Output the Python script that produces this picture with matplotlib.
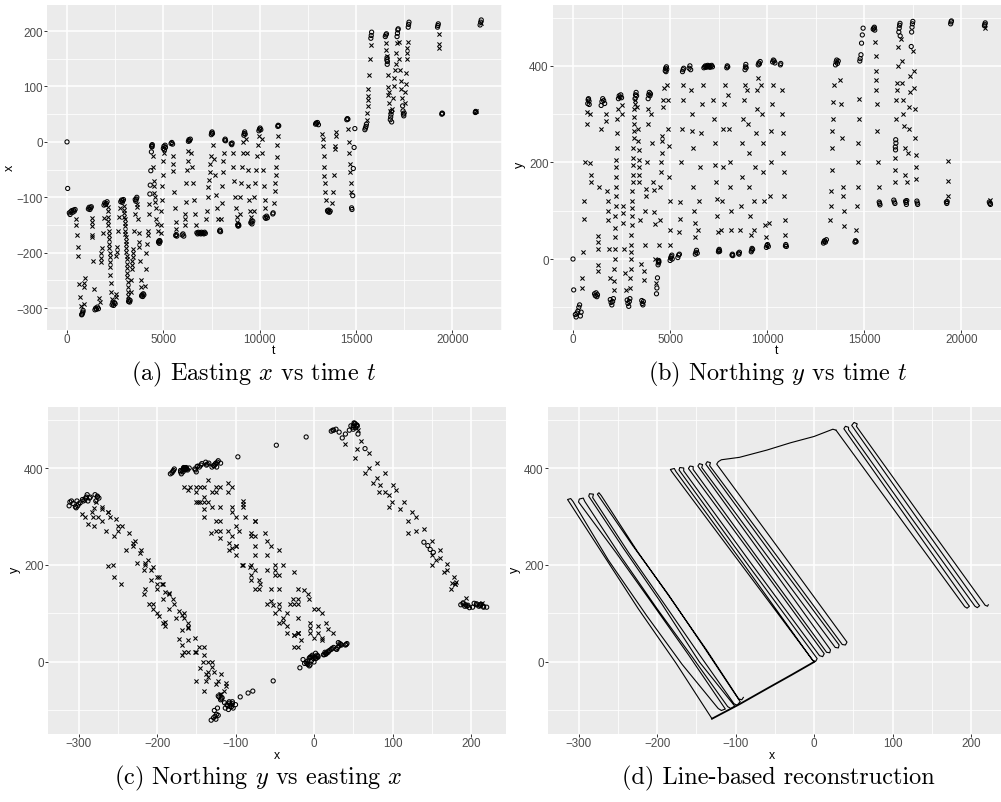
import numpy as np
import matplotlib

matplotlib.use("Agg")
import matplotlib.pyplot as plt

plt.rcParams["font.family"] = ["Liberation Sans", "DejaVu Sans"]
plt.rcParams["mathtext.fontset"] = "cm"

W, H = 1001, 803

# ---- position fixes (open circles), (t, x, y) ----
START_FIXES = [(0, 0, 0), (35, -84, -64)]
LEFT_FIXES = [
    (120, -128, -115), (160, -131, -120), (200, -126, -112), (250, -124, -108),
    (300, -127, -100), (340, -123, -95), (380, -125, -118), (420, -122, -110),
    (760, -312, 322), (780, -311, 330), (800, -309, 332), (825, -307, 327), (835, -304, 320),
    (1110, -121, -72), (1150, -118, -76), (1190, -122, -70), (1230, -119, -78), (1260, -117, -74),
    (1450, -303, 318), (1490, -300, 326), (1530, -302, 332), (1580, -298, 328), (1630, -301, 322),
    (1920, -114, -84), (1960, -110, -90), (2000, -113, -95), (2040, -111, -88), (2080, -108, -82),
    (2340, -294, 332), (2380, -291, 338), (2420, -295, 335), (2460, -290, 340), (2500, -292, 334),
    (2790, -108, -85), (2830, -105, -92), (2870, -109, -98), (2900, -106, -88), (2930, -104, -82),
    (3195, -288, 332), (3220, -285, 340), (3250, -289, 345), (3275, -286, 338),
    (3540, -104, -86), (3570, -107, -92), (3600, -103, -95), (3625, -100, -88),
    (3870, -278, 332), (3900, -276, 340), (3930, -279, 345), (3960, -274, 338), (3990, -276, 342),
    (4300, -94, -72), (4320, -78, -60), (4350, -52, -39), (4380, -18, -12),
]
MID_FIXES = [
    (4395, -8, -5), (4405, -6, -8), (4415, -9, -3), (4425, -5, -6),
    (4750, -181, 390), (4770, -179, 395), (4790, -183, 388), (4810, -178, 398), (4830, -180, 393),
    (5000, -12, -3), (5030, -8, 2), (5060, -14, 5), (5090, -6, 8), (5110, -10, 0),
    (5400, -3, 3), (5440, -1, 8), (5480, -4, 10),
    (5640, -169, 388), (5670, -167, 392), (5700, -170, 395),
    (5980, -168, 395), (6020, -166, 400), (6060, -170, 392),
    (6300, 1, 10), (6330, 4, 14), (6360, 2, 18), (6400, 5, 12),
    (6740, -164, 396), (6780, -166, 398), (6820, -163, 400), (6860, -165, 397),
    (6900, -164, 399), (6940, -166, 401), (6980, -163, 398), (7020, -165, 400),
    (7060, -164, 397), (7100, -166, 399), (7140, -163, 401), (7180, -165, 398),
    (7490, 13, 15), (7510, 16, 18), (7530, 18, 20), (7550, 15, 16),
    (7920, -161, 396), (7945, -159, 400), (7970, -162, 398),
    (8190, 3, 8), (8210, 5, 10), (8230, 2, 7),
    (8520, -3, 12), (8550, -5, 10), (8570, -2, 14),
    (8860, -150, 392), (8880, -152, 398), (8900, -149, 403), (8920, -151, 396),
    (9180, 12, 15), (9200, 15, 18), (9220, 18, 22), (9250, 14, 20),
    (9540, -146, 402), (9570, -144, 406), (9600, -148, 404), (9640, -143, 409),
    (9960, 20, 24), (9990, 23, 28), (10020, 25, 30), (10060, 22, 26),
    (10280, -136, 408), (10320, -138, 412), (10360, -134, 410), (10400, -137, 406),
    (10680, -130, 402), (10700, -128, 405),
    (10940, 28, 27), (10960, 30, 30), (10990, 29, 26),
    (12900, 32, 33), (12930, 34, 36), (12960, 33, 38), (13000, 35, 35), (13050, 31, 40),
    (13520, -124, 402), (13550, -126, 408), (13580, -123, 412), (13620, -127, 405), (13660, -125, 410),
    (14520, 40, 35), (14550, 42, 38), (14580, 41, 36),
    (14770, -119, 410), (14790, -122, 415), (14830, -97, 423), (14860, -48, 447),
    (14900, -10, 464), (14940, 24, 478),
]
RIGHT_FIXES = [
    (15460, 22, 476), (15490, 25, 478), (15520, 28, 480), (15540, 32, 474),
    (15770, 187, 118), (15790, 192, 115), (15810, 198, 112),
    (16520, 190, 122), (16550, 193, 118), (16580, 195, 115),
    (16600, 148, 232), (16610, 152, 226), (16620, 140, 247), (16630, 145, 240),
    (16780, 40, 470), (16800, 45, 478), (16820, 50, 484), (16840, 55, 488), (16850, 36, 462),
    (17130, 190, 120), (17150, 196, 117), (17170, 202, 113), (17190, 204, 121),
    (17420, 65, 440), (17440, 56, 470), (17460, 50, 480), (17480, 47, 487), (17500, 52, 492),
    (17710, 207, 120), (17730, 212, 116), (17750, 216, 113),
    (19230, 207, 118), (19250, 210, 115), (19270, 213, 119),
    (19450, 50, 487), (19470, 52, 491), (19490, 51, 493),
    (21190, 53, 483), (21210, 55, 486), (21230, 54, 489),
    (21440, 211, 118), (21470, 216, 115), (21500, 220, 113),
]

# ---- range observations along the lanes (crosses), (t, x, y) ----
LEFT_PINGS = [
    (460, -140, -60), (475, -150, -40), (530, -168, 15), (555, -190, 82), (585, -205, 120),
    (640, -256, 200), (700, -280, 280), (740, -296, 305),
    (870, -292, 300), (890, -262, 198), (905, -255, 175), (935, -246, 160),
    (1280, -138, -25), (1285, -145, -12), (1290, -151, 21), (1300, -168, 35), (1310, -172, 48),
    (1350, -215, 150), (1420, -265, 270),
    (1680, -282, 300), (1700, -288, 285), (1770, -217, 140), (1780, -210, 120),
    (1790, -200, 100), (1800, -192, 80), (1850, -165, 20), (1900, -138, -40),
    (2110, -118, -65), (2120, -125, -45), (2130, -135, -20), (2140, -142, 0), (2150, -150, 20),
    (2160, -160, 45), (2170, -168, 65), (2180, -176, 90), (2190, -185, 110), (2200, -192, 130),
    (2210, -200, 150), (2220, -208, 170), (2230, -216, 190), (2240, -225, 205), (2255, -240, 230),
    (2270, -255, 260), (2290, -270, 290), (2310, -283, 310),
    (2520, -280, 318), (2530, -275, 300), (2560, -205, 110), (2575, -198, 95),
    (2600, -190, 75), (2650, -160, 20), (2700, -135, -30), (2740, -120, -65),
    (2950, -115, -60), (2960, -122, -40), (2970, -128, -20), (2980, -135, 0), (2990, -140, 15),
    (3000, -146, 30), (3010, -152, 50), (3020, -160, 70), (3030, -166, 90), (3040, -172, 105),
    (3050, -178, 120), (3060, -185, 140), (3070, -192, 160), (3080, -198, 175), (3090, -205, 195),
    (3100, -212, 210), (3110, -220, 230), (3120, -228, 250), (3130, -236, 265), (3140, -244, 280),
    (3150, -252, 295), (3160, -262, 310), (3170, -270, 320), (3180, -278, 330),
    (3300, -270, 315), (3330, -250, 270), (3360, -230, 245), (3380, -222, 225), (3390, -215, 205),
    (3400, -208, 190), (3410, -200, 175), (3420, -194, 160), (3470, -160, 80), (3510, -130, -10),
    (3640, -112, -44), (3650, -118, -25), (3690, -140, 30), (3720, -165, 100), (3740, -180, 130),
    (3760, -190, 145), (3800, -215, 200), (3840, -250, 280), (3860, -262, 310),
    (4030, -260, 300), (4080, -230, 240), (4120, -200, 160), (4150, -185, 142),
    (4180, -168, 97), (4200, -160, 73), (4230, -130, 0), (4250, -112, -50),
]
MID_PINGS = [
    (4450, -25, 30), (4480, -45, 80), (4500, -70, 150), (4520, -80, 180), (4540, -92, 200),
    (4560, -100, 220), (4580, -108, 245), (4600, -120, 255), (4640, -140, 315), (4660, -148, 330),
    (4700, -160, 355),
    (4860, -165, 360), (4880, -150, 330), (4900, -125, 270), (4920, -105, 235), (4950, -80, 170),
    (4970, -60, 120), (4990, -35, 60), (5010, -20, 30),
    (5480, -25, 55), (5500, -40, 83), (5510, -52, 118), (5560, -90, 200), (5600, -120, 270),
    (5640, -145, 330), (5670, -158, 360),
    (6100, -150, 350), (6130, -140, 300), (6150, -131, 265), (6160, -108, 230), (6200, -75, 150),
    (6240, -50, 100), (6270, -34, 75), (6290, -17, 45),
    (6450, -20, 60), (6500, -45, 120), (6550, -75, 190), (6600, -105, 260), (6650, -130, 320),
    (6700, -150, 360),
    (7230, -140, 330), (7260, -125, 290), (7300, -99, 240), (7330, -81, 195), (7360, -69, 160),
    (7400, -55, 125), (7440, -40, 90), (7470, -25, 55),
    (7600, -5, 60), (7650, -30, 120), (7700, -60, 190), (7750, -95, 270), (7800, -120, 320),
    (7850, -140, 360),
    (8000, -140, 340), (8030, -110, 270), (8060, -80, 200), (8090, -55, 150), (8120, -35, 100),
    (8150, -20, 60),
    (8600, -20, 60), (8640, -45, 110), (8680, -70, 170), (8720, -100, 240), (8760, -120, 290),
    (8800, -135, 330), (8840, -145, 360),
    (8960, -130, 350), (9000, -100, 280), (9040, -75, 220), (9080, -45, 150), (9120, -20, 90),
    (9160, 0, 50),
    (9300, 5, 60), (9340, -20, 120), (9380, -50, 190), (9420, -80, 260), (9460, -105, 310),
    (9500, -125, 350), (9530, -135, 375),
    (9690, -125, 360), (9730, -100, 300), (9770, -75, 240), (9810, -50, 180), (9850, -25, 120),
    (9900, -5, 70), (9940, 10, 45),
    (10100, 5, 75), (10140, -20, 130), (10180, -50, 200), (10220, -80, 265), (10260, -105, 320),
    (10300, -120, 360),
    (10750, -110, 350), (10780, -88, 300), (10800, -75, 260), (10830, -60, 220), (10860, -45, 180),
    (10880, -27, 130), (10910, -5, 80), (10930, 10, 50),
    (13250, 15, 80), (13280, 5, 110), (13300, -8, 140), (13320, -25, 185), (13340, -45, 230),
    (13360, -62, 265), (13380, -75, 290), (13400, -90, 325), (13430, -105, 360),
    (13750, -110, 370), (13800, -90, 320), (13850, -60, 250), (13900, -13, 149), (13920, -7, 130),
    (13950, 10, 100), (13980, 18, 68),
    (14600, 24, 60), (14630, 0, 110), (14660, -20, 150), (14680, -40, 200), (14700, -55, 240),
    (14720, -75, 290), (14740, -90, 332),
]
RIGHT_PINGS = [
    (15560, 40, 450), (15580, 52, 420), (15600, 65, 390), (15610, 75, 370), (15620, 83, 350),
    (15640, 95, 320), (15680, 120, 265), (15720, 150, 200), (15760, 175, 150),
    (16560, 179, 160), (16570, 165, 185), (16590, 155, 210), (16650, 120, 290), (16660, 99, 330),
    (16680, 84, 365), (16700, 90, 350), (16730, 70, 400), (16760, 55, 440),
    (16880, 60, 455), (16920, 80, 410), (16960, 100, 365), (16990, 115, 330), (17020, 130, 300),
    (17050, 140, 275), (17080, 160, 230), (17110, 178, 175),
    (17220, 180, 160), (17250, 150, 220), (17280, 130, 270), (17310, 110, 315), (17340, 95, 345),
    (17370, 80, 380),
    (17530, 70, 430), (17560, 90, 390), (17580, 105, 355), (17600, 125, 310), (17630, 150, 250),
    (17650, 160, 215), (17670, 170, 190), (17690, 181, 165),
    (19290, 194, 131), (19310, 176, 162), (19330, 170, 203),
    (21240, 56, 478), (21470, 214, 122),
]

# ---- line-based track, (x, y) vertices ----
LINK_BOTTOM = [(-130, -117), (-96, -88), (-60, -55), (-28, -26), (0, 0)]
LEFT_TRACK = [
    (-130, -117), (-176, -2), (-224, 110), (-268, 220), (-312, 330),
    (-314, 335), (-310, 337), (-307, 331),
    (-262, 210), (-213, 95), (-168, -5), (-122, -96),
    (-118, -100), (-113, -97),
    (-160, 15), (-208, 125), (-252, 225), (-300, 330),
    (-299, 336), (-294, 338), (-292, 331),
    (-245, 215), (-200, 110), (-155, 10), (-110, -92),
    (-106, -96), (-101, -91),
    (-146, 0), (-196, 125), (-243, 235), (-287, 342),
    (-286, 347), (-281, 346), (-282, 339),
    (-236, 225), (-190, 118), (-146, 15), (-102, -86),
    (-98, -89), (-94, -82),
    (-140, 30), (-186, 140), (-231, 240), (-276, 346),
    (-274, 349), (-271, 343),
    (-225, 228), (-180, 125), (-137, 25), (-96, -76),
    (-92, -78), (-90, -73),
]
MID_TRACK = [
    (0, 0), (-90, 195), (-181, 392),
    (-183, 397), (-178, 399), (-176, 393),
    (-88, 198), (-2, 4),
    (2, 1), (4, 7),
    (-84, 200), (-172, 396),
    (-171, 401), (-166, 400), (-166, 394),
    (-80, 203), (7, 13),
    (11, 11), (13, 17),
    (-73, 208), (-160, 399),
    (-158, 404), (-154, 403), (-154, 397),
    (-69, 208), (16, 20),
    (20, 19), (21, 25),
    (-63, 214), (-148, 404),
    (-146, 409), (-142, 407), (-143, 401),
    (-58, 215), (27, 30),
    (31, 29), (32, 35),
    (-53, 220), (-138, 408),
    (-136, 413), (-132, 411), (-133, 405),
    (-48, 220), (36, 36),
    (40, 35), (42, 41),
    (-41, 225), (-124, 408),
    (-122, 413), (-118, 417), (-95, 422), (-60, 437), (-30, 452), (0, 465), (24, 480), (28, 478),
]
RIGHT_TRACK = [
    (28, 478), (110, 296), (192, 114),
    (195, 111), (198, 115), (196, 119),
    (117, 300), (38, 481),
    (40, 486), (44, 484), (44, 479),
    (124, 297), (205, 115),
    (208, 112), (211, 116), (209, 120),
    (128, 304), (48, 488),
    (51, 494), (55, 491), (54, 486),
    (136, 301), (218, 117),
    (221, 115), (222, 118),
]

CAPTIONS = [
    "(a) Easting $x$ vs time $t$",
    "(b) Northing $y$ vs time $t$",
    "(c) Northing $y$ vs easting $x$",
    "(d) Line-based reconstruction",
]

fix = np.array(START_FIXES + LEFT_FIXES + MID_FIXES + RIGHT_FIXES, dtype=float)
ping = np.array(LEFT_PINGS + MID_PINGS + RIGHT_PINGS, dtype=float)


def box(l, t, r, b):
    return [l / W, (H - b) / H, (r - l) / W, (b - t) / H]


def style(ax, xmaj, xmin, ymaj, ymin):
    ax.set_facecolor("#EBEBEB")
    for s in ax.spines.values():
        s.set_visible(False)
    ax.set_xticks(xmaj)
    ax.set_xticks(xmin, minor=True)
    ax.set_yticks(ymaj)
    ax.set_yticks(ymin, minor=True)
    ax.grid(which="major", color="white", lw=1.1)
    ax.grid(which="minor", color="white", lw=0.55)
    ax.set_axisbelow(True)
    ax.tick_params(which="major", length=2.2, width=0.7, color="#333333",
                   labelsize=8.4, labelcolor="#4D4D4D", pad=1.0)
    ax.tick_params(axis="x", which="major", pad=0.3)
    ax.tick_params(which="minor", length=0)


def points(ax, ix, iy):
    ax.scatter(fix[:, ix], fix[:, iy], marker="o", s=9, facecolors="none",
               edgecolors="black", linewidths=0.75, zorder=3)
    ax.scatter(ping[:, ix], ping[:, iy], marker="x", s=9, c="black",
               linewidths=0.75, zorder=3)


def label(x, y, s, rot=0, va="center", **kw):
    fig.text(x / W, 1 - y / H, s, ha="center", va=va, rotation=rot, **kw)


fig = plt.figure(figsize=(W / 100, H / 100), dpi=100)

# (a) easting vs time
ax = fig.add_axes(box(47, 6, 502, 331))
points(ax, 0, 1)
style(ax, [0, 5000, 10000, 15000, 20000], [2500, 7500, 12500, 17500, 22500],
      [-300, -200, -100, 0, 100, 200], [-250, -150, -50, 50, 150])
ax.set_xlim(-1038, 22577)
ax.set_ylim(-339.4, 247)
label(10, 168, "x", rot=90, fontsize=9)
label(274, 345.5, "t", va="top", fontsize=8.8)

# (b) northing vs time
ax = fig.add_axes(box(553, 6, 1001, 331))
points(ax, 0, 2)
style(ax, [0, 5000, 10000, 15000, 20000], [2500, 7500, 12500, 17500],
      [0, 200, 400], [-100, 100, 300, 500])
ax.set_xlim(-1030, 22042)
ax.set_ylim(-147, 526)
label(520, 165, "y", rot=90, fontsize=9)
label(777, 345.5, "t", va="top", fontsize=8.8)

# (c) northing vs easting
ax = fig.add_axes(box(48, 408, 506, 735))
points(ax, 1, 2)
style(ax, [-300, -200, -100, 0, 100, 200], [-250, -150, -50, 50, 150],
      [0, 200, 400], [-100, 100, 300, 500])
ax.set_xlim(-338.9, 244.6)
ax.set_ylim(-148.5, 525.8)
label(15, 570, "y", rot=90, fontsize=9)
label(277, 750.5, "x", va="top", fontsize=8.8)

# (d) line-based reconstruction
ax = fig.add_axes(box(548, 408, 1001, 735))
for trk, lw in [(LINK_BOTTOM, 1.3), (LEFT_TRACK, 0.8), (MID_TRACK, 0.8), (RIGHT_TRACK, 0.8)]:
    xy = np.array(trk, dtype=float)
    ax.plot(xy[:, 0], xy[:, 1], color="black", lw=lw, solid_joinstyle="round")
style(ax, [-300, -200, -100, 0, 100, 200], [-250, -150, -50, 50, 150],
      [0, 200, 400], [-100, 100, 300, 500])
ax.set_xlim(-338.9, 238.2)
ax.set_ylim(-148.5, 525.8)
label(515, 570, "y", rot=90, fontsize=9)
label(772, 750.5, "x", va="top", fontsize=8.8)

for (cx, cy), cap in zip([(254, 374), (778, 374), (258, 778), (778, 778)], CAPTIONS):
    label(cx, cy, cap, fontsize=17.5, family="cmr10")

fig.savefig("out.png", dpi=100)
